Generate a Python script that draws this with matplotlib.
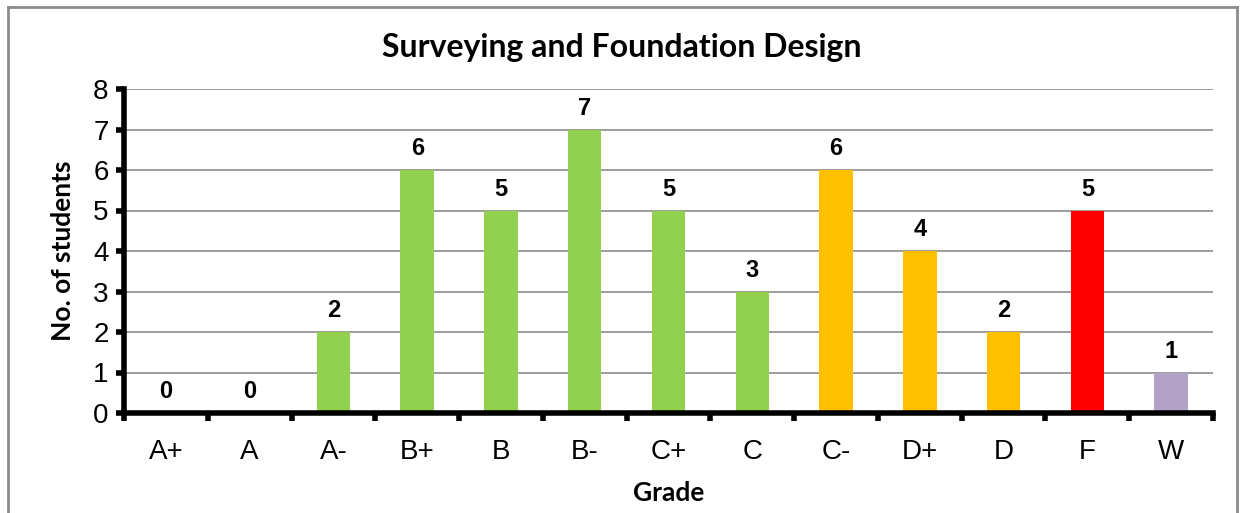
import matplotlib.pyplot as plt
from matplotlib.lines import Line2D

# grade distribution
grades = ["A+", "A", "A-", "B+", "B", "B-", "C+", "C", "C-", "D+", "D", "F", "W"]
students = [0, 0, 2, 6, 5, 7, 5, 3, 6, 4, 2, 5, 1]
bar_colors = ["#92D050"] * 8 + ["#FFC000"] * 3 + ["#FF0000", "#B3A2C7"]

fig = plt.figure(figsize=(12.44, 5.13), dpi=100)
ax = fig.add_axes([124 / 1244, 1 - 413 / 513, 1089 / 1244, 324 / 513])

x = range(len(grades))
ax.bar(x, students, width=0.4, color=bar_colors, zorder=2)

# value labels above bars
for i, v in enumerate(students):
    ax.text(i, v + 0.36, str(v), ha="center", va="baseline",
            fontsize=17, fontweight="bold", family="Liberation Sans")

ax.set_xlim(-0.5, len(grades) - 0.5)
ax.set_ylim(0, 8)
ax.set_yticks(range(0, 9))
ax.yaxis.grid(True, color="#8c8c8c", linewidth=1.2, zorder=0)

# category labels centred, ticks at the boundaries
ax.set_xticks([i - 0.5 for i in range(len(grades) + 1)])
ax.set_xticklabels([])
ax.set_xticks(list(x), minor=True)
ax.set_xticklabels(grades, minor=True)
ax.tick_params(axis="x", which="minor", length=0, pad=19, labelsize=20)
ax.tick_params(axis="x", which="major", length=6, width=4, direction="out")
ax.tick_params(axis="y", length=6, width=4, direction="out", pad=5, labelsize=20)
for lab in ax.get_xticklabels(minor=True) + ax.get_yticklabels():
    lab.set_family("Liberation Sans")

for side in ["top", "right"]:
    ax.spines[side].set_visible(False)
for side in ["left", "bottom"]:
    ax.spines[side].set_linewidth(4)

fig.text(0.5, 1 - 48 / 513, "Surveying and Foundation Design", fontsize=23,
         fontweight="bold", family="Lato", ha="center", va="center")
ax.set_ylabel("No. of students", fontsize=19, fontweight="bold", family="Lato", labelpad=13)
ax.set_xlabel("Grade", fontsize=19, fontweight="bold", family="Lato", labelpad=11)

# chart area border
border = dict(color="#8c8c8c", linewidth=2, transform=fig.transFigure)
fig.add_artist(Line2D([8 / 1244, 8 / 1244], [0, 1 - 7 / 513], **border))
fig.add_artist(Line2D([1237 / 1244, 1237 / 1244], [0, 1 - 7 / 513], **border))
fig.add_artist(Line2D([8 / 1244, 1237 / 1244], [1 - 7 / 513, 1 - 7 / 513], **border))

fig.savefig("out.png", dpi=100)
